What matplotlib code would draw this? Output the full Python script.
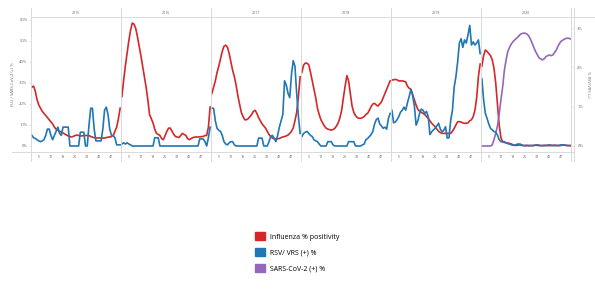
import numpy as np
import matplotlib.pyplot as plt
from matplotlib.patches import Patch
from matplotlib.lines import Line2D

plt.rcParams["font.family"] = ["Open Sans", "DejaVu Sans"]

years = ["2015", "2016", "2017", "2018", "2019", "2020"]
weeks = np.arange(1, 53)
week_ticks = [5, 12, 19, 26, 33, 40, 47]

# influenza % positivity (left axis)
flu_2015 = [28, 28.5, 26, 22, 19.5, 18, 16.5, 15.5, 14.5, 13.5, 12.5, 11.5, 10.5, 9, 8, 7.5, 7, 6.7, 6.2, 5.7,
            5.2, 4.8, 4.5, 4.3, 4.6, 5, 5.2, 5, 4.8, 4.8, 5, 5, 5, 5, 4.5, 4.2, 4, 3.8, 3.8, 3.9,
            3.7, 3.7, 3.8, 4, 4.2, 4.3, 4.5, 5, 7, 9, 13, 18]
flu_2016 = [23.5, 31, 38, 44, 50, 55, 58.5, 58, 56, 52, 47.5, 43, 38, 33, 28, 22, 15, 13, 11, 8,
            6, 5.5, 5, 3.5, 3, 5, 7, 8.5, 8.5, 7, 5.5, 4.5, 4.3, 4, 5, 6, 5.5, 5, 3.5, 3,
            3.5, 4, 4.2, 4.3, 4.3, 4.3, 4.5, 4.5, 5, 5, 9, 18.5]
flu_2017 = [25, 28, 31, 35, 38, 41.5, 45, 47.5, 48, 47, 44, 40, 36, 33, 29, 24, 20, 16, 14, 12.5,
            12.5, 13, 14, 15, 16.5, 17, 15.5, 13.5, 12, 10.5, 9.5, 8.5, 7, 5.5, 4.5, 3.8, 3.5, 3.3, 3.4, 3.6,
            4, 4.3, 4.5, 4.8, 5.2, 6, 7, 8.6, 12, 16, 23.5, 33]
flu_2018 = [35, 38.5, 39.5, 39.4, 38.6, 35, 31, 27, 23, 18, 15, 12.5, 11, 9.5, 8.5, 8, 7.8, 7.6, 7.8, 8.4,
            9.5, 11, 13.5, 17, 23, 28.5, 33.5, 31, 25, 19, 16, 14.5, 13.5, 13.2, 13.2, 13.5, 14, 15, 15.6, 17,
            18.7, 20, 20.3, 19.5, 19, 20, 21, 23, 25, 27, 29, 31]
flu_2019 = [31.4, 31.5, 31.7, 31.5, 31, 31, 31, 30.8, 30.5, 28.5, 27.5, 27, 24.5, 22, 19.5, 17.5, 16.5, 16, 15.5, 15,
            14, 13.2, 12, 10.8, 10, 9.2, 8, 7, 6.4, 6, 6, 6, 6, 6, 6, 7, 8.4, 10, 11.5, 11.6,
            11.4, 11, 10.8, 10.8, 11, 12, 12.5, 14, 17, 23, 33, 39]
flu_2020 = [38, 43, 45.7, 45, 44, 43, 41, 37, 30, 20, 10, 4, 2, 1.7, 1.5, 1.4, 1.2, 1, 0.5, 0.3,
            0.3, 0.4, 0.5, 0.3, 0.2, 0.2, 0.3, 0.2, 0.2, 0.2, 0.3, 0.4, 0.3, 0.2, 0.2, 0.2, 0.3, 0.3, 0.2, 0.2,
            0.2, 0.3, 0.4, 0.3, 0.2, 0.2, 0.3, 0.5, 0.4, 0.3, 0.2, 0.2]

# RSV / VRS (+) % (right axis)
rsv_2015 = [0.27, 0.21, 0.19, 0.16, 0.13, 0.11, 0.13, 0.16, 0.27, 0.43, 0.43, 0.27, 0.16, 0.27, 0.37, 0.48, 0.32, 0.27, 0.48, 0.48,
            0.48, 0.48, 0, 0, 0, 0, 0, 0, 0.35, 0.35, 0.35, 0, 0, 0.53, 0.96, 0.96, 0.43, 0.13, 0.13, 0.13,
            0.13, 0.43, 0.91, 0.99, 0.80, 0.43, 0.27, 0.27, 0.21, 0.03, 0.03, 0.03]
rsv_2016 = [0.05, 0.08, 0.05, 0.08, 0.05, 0.03, 0, 0, 0, 0, 0, 0, 0, 0, 0, 0, 0, 0, 0, 0.21,
            0.21, 0.21, 0, 0, 0, 0, 0, 0, 0, 0, 0, 0, 0, 0, 0, 0, 0, 0, 0, 0,
            0, 0, 0, 0, 0, 0.18, 0.18, 0.18, 0.11, 0, 0.21, 0.48]
rsv_2017 = [0.96, 0.96, 0.64, 0.45, 0.40, 0.37, 0.27, 0.11, 0.05, 0.03, 0.08, 0.11, 0.11, 0.03, 0, 0, 0, 0, 0, 0,
            0, 0, 0, 0, 0, 0, 0, 0.20, 0.20, 0.20, 0, 0, 0, 0.11, 0.24, 0.27, 0.19, 0.11, 0.27, 0.48,
            0.64, 0.80, 1.66, 1.55, 1.34, 1.23, 1.82, 2.17, 2.03, 1.34, 0.75, 0.32]
rsv_2018 = [0.24, 0.32, 0.35, 0.37, 0.32, 0.27, 0.24, 0.16, 0.13, 0.11, 0.05, 0, 0, 0, 0, 0.11, 0.11, 0.11, 0.03, 0,
            0, 0, 0, 0, 0, 0, 0, 0.11, 0.11, 0.11, 0.11, 0, 0, 0, 0, 0.03, 0.05, 0.16, 0.19, 0.24,
            0.29, 0.37, 0.56, 0.67, 0.71, 0.56, 0.51, 0.45, 0.48, 0.43, 0.70, 0.83]
rsv_2019 = [0.91, 0.59, 0.61, 0.67, 0.75, 0.86, 0.91, 0.99, 0.91, 1.10, 1.26, 1.44, 1.28, 1.02, 0.53, 0.64, 0.83, 0.94, 0.91, 0.83,
            0.88, 0.75, 0.29, 0.36, 0.41, 0.45, 0.51, 0.58, 0.43, 0.36, 0.40, 0.49, 0.20, 0.21, 0.66, 0.91, 1.50, 1.76, 2.14, 2.62,
            2.73, 2.51, 2.70, 2.62, 2.83, 3.07, 2.57, 2.65, 2.57, 2.62, 2.70, 2.35]
rsv_2020 = [1.71, 1.18, 0.83, 0.70, 0.56, 0.45, 0.41, 0.37, 0.35, 0.28, 0.16, 0.11, 0.11, 0.11, 0.08, 0.06, 0.05, 0.03, 0.02, 0.02,
            0.04, 0.05, 0.05, 0.03, 0.01, 0.01, 0.01, 0.01, 0.01, 0.01, 0.01, 0.02, 0.03, 0.02, 0.01, 0.01, 0.01, 0.01, 0.02, 0.03,
            0.02, 0.01, 0.01, 0.01, 0.01, 0.02, 0.03, 0.03, 0.02, 0.01, 0.01, 0.01]

# SARS-CoV-2 (+) % (left axis), 2020 only
cov_2020 = [0, 0, 0, 0, 0, 0, 0.5, 3, 6, 9.5, 15, 22, 28, 36, 41, 45, 47, 48.5, 49.7, 50.5,
            51.3, 52, 53, 53.5, 53.7, 53.7, 53.3, 52.5, 51, 49, 47, 45, 43.5, 42, 41.5, 41, 41.5, 42.5, 43, 43.3,
            43, 43.3, 44.5, 45.7, 47.5, 49, 50, 50.5, 51, 51.3, 51.3, 51]

flu_all = [flu_2015, flu_2016, flu_2017, flu_2018, flu_2019, flu_2020]
rsv_all = [rsv_2015, rsv_2016, rsv_2017, rsv_2018, rsv_2019, rsv_2020]
cov_all = [None, None, None, None, None, cov_2020]

flu_color = "#d62728"
rsv_color = "#1f77b4"
cov_color = "#9467bd"
grid_color = "#d4d4d4"
text_color = "#666666"

W_PX, H_PX = 595, 295
fig = plt.figure(figsize=(W_PX / 100, H_PX / 100), dpi=100)

left = 31 / W_PX
right = 571 / W_PX
bottom = 1 - 152 / H_PX
top = 1 - 17 / H_PX
pw = (right - left) / 6

for i, year in enumerate(years):
    ax = fig.add_axes([left + i * pw, bottom, pw, top - bottom])
    ax.set_xlim(0.5, 52.5)
    ax.set_ylim(-2.86, 61.4)
    ax.plot(weeks, flu_all[i], color=flu_color, lw=1.2)
    if cov_all[i] is not None:
        ax.plot(weeks, cov_all[i], color=cov_color, lw=1.2)
    ax.patch.set_alpha(0)
    for s in ax.spines.values():
        s.set_visible(False)
    ax.set_xticks(week_ticks)
    ax.tick_params(axis="x", length=0, labelsize=2.6, colors=text_color, pad=2.2)

    ax2 = ax.twinx()
    ax2.set_ylim(-0.153, 3.283)
    ax2.plot(weeks, rsv_all[i], color=rsv_color, lw=1.2)
    for s in ax2.spines.values():
        s.set_visible(False)

    if i == 0:
        ax.set_yticks(range(0, 61, 10))
        ax.set_yticklabels([f"{v}%" for v in range(0, 61, 10)])
        ax.tick_params(axis="y", length=1.5, width=0.4, color=grid_color,
                       labelsize=3, labelcolor=text_color, pad=1)
        ax.set_ylabel("FLU / SARS-CoV-2 (+) %", fontsize=3, color=text_color, labelpad=3)
    else:
        ax.set_yticks([])
    if i == 5:
        ax2.set_yticks([0, 1, 2, 3])
        ax2.set_yticklabels(["0%", "1%", "2%", "3%"])
        ax2.tick_params(axis="y", length=1.5, width=0.4, color=grid_color,
                        labelsize=3, labelcolor=text_color, pad=3)
        ax2.set_ylabel("% RSV/VRS (+)", fontsize=3, color=text_color, rotation=270, labelpad=5)
    else:
        ax2.set_yticks([])

    fig.text(left + (i + 0.5) * pw, 1 - 12.5 / H_PX, year, fontsize=2.6,
             color=text_color, ha="center", va="center")

# panel separators and frame lines
y_lo = 1 - 161 / H_PX
y_hi = 1 - 8 / H_PX
for i in range(7):
    x = left + i * pw
    fig.add_artist(Line2D([x, x], [y_lo, y_hi], color=grid_color, lw=0.6))
x_axis_r = right + 2.5 / W_PX
fig.add_artist(Line2D([x_axis_r, x_axis_r], [y_lo, y_hi], color=grid_color, lw=0.6))
fig.add_artist(Line2D([left, 1], [top, top], color=grid_color, lw=0.6))
fig.add_artist(Line2D([12 / W_PX, x_axis_r], [bottom, bottom], color=grid_color, lw=0.6))

handles = [Patch(color=flu_color, label="Influenza % positivity"),
           Patch(color=rsv_color, label="RSV/ VRS (+) %"),
           Patch(color=cov_color, label="SARS-CoV-2 (+) %")]
fig.legend(handles=handles, loc="upper left", bbox_to_anchor=(255 / W_PX, 1 - 232 / H_PX),
           frameon=False, fontsize=5, handlelength=1.5, handleheight=1.5,
           handletextpad=0.6, labelspacing=1.05, borderpad=0, borderaxespad=0)

fig.savefig("out.png", dpi=100)
